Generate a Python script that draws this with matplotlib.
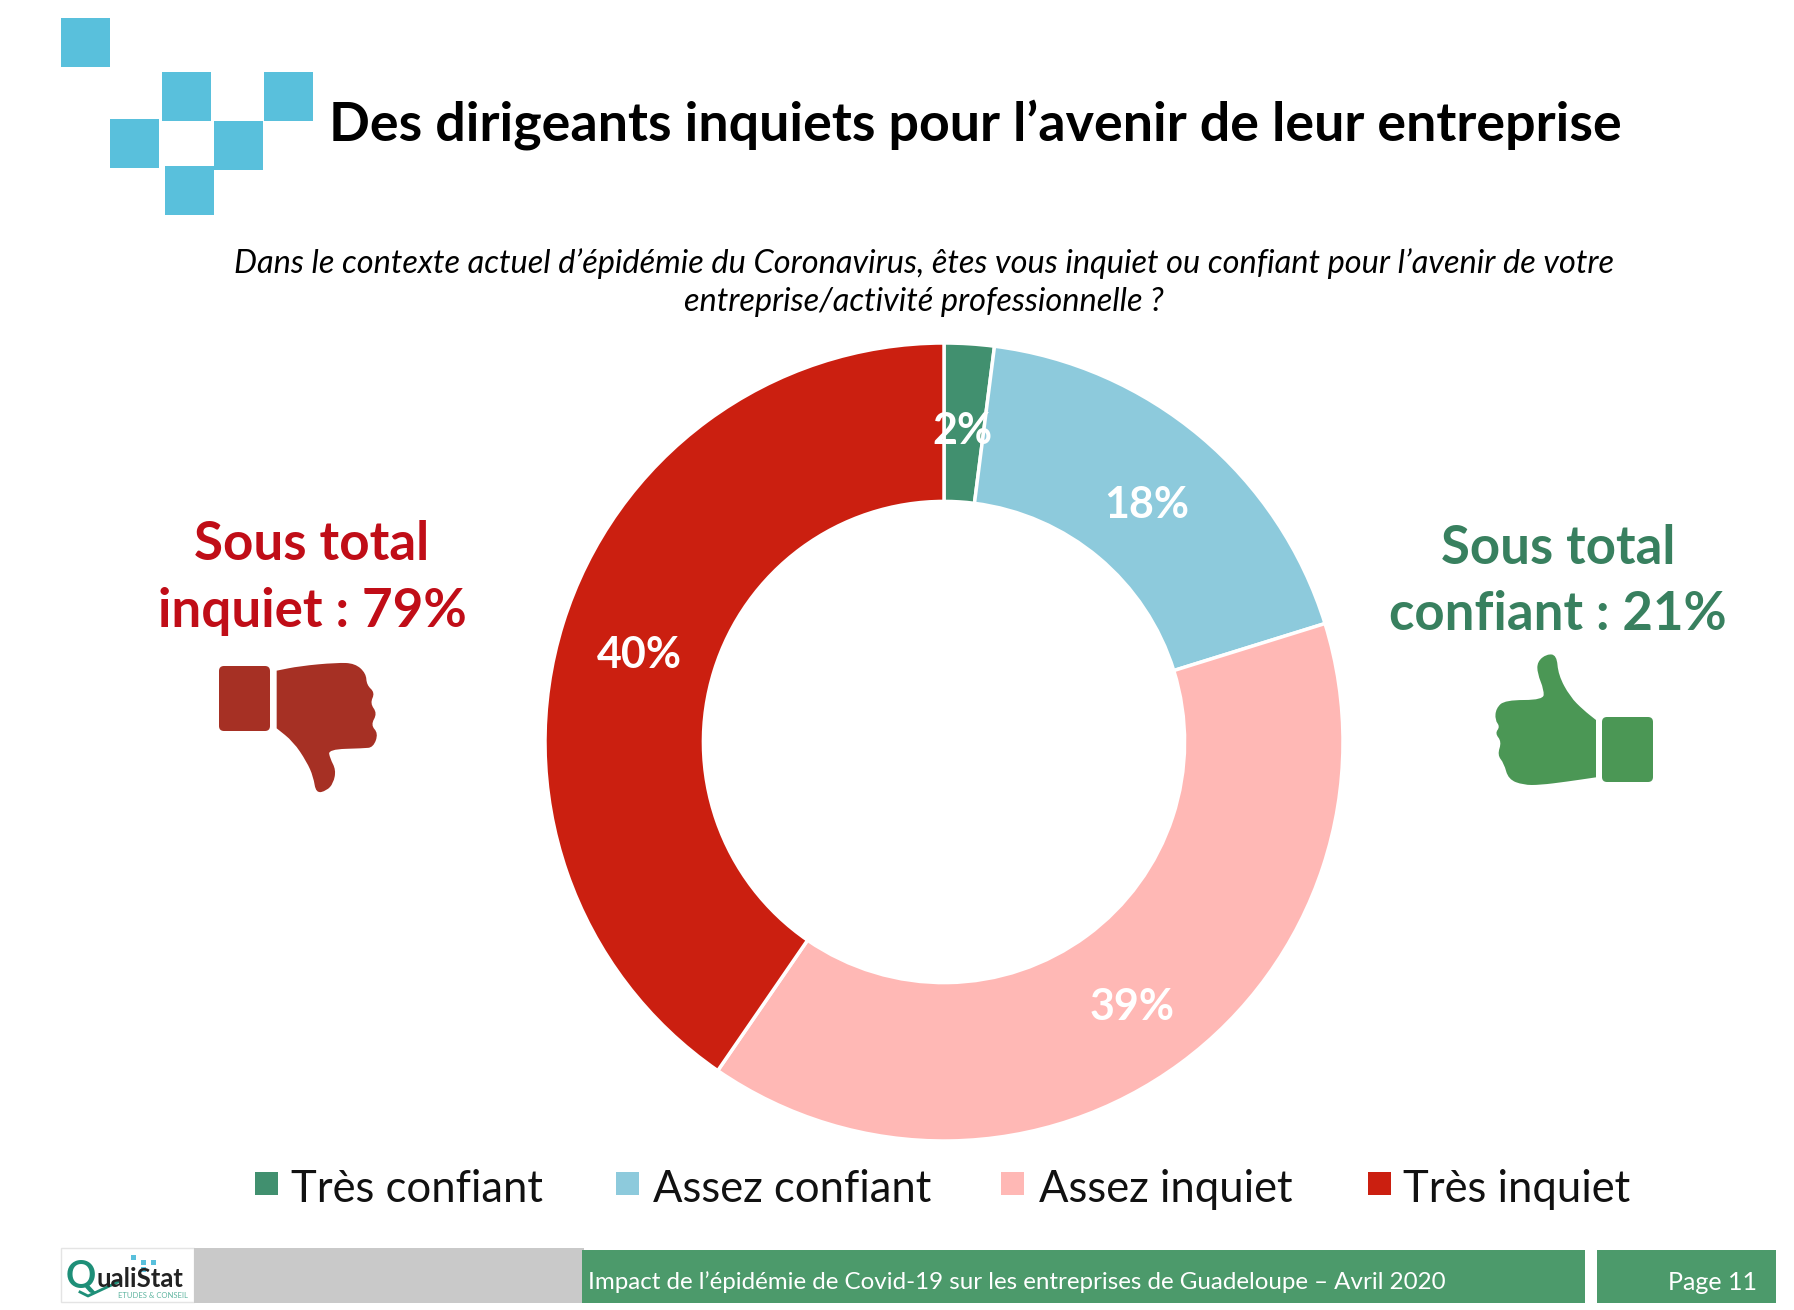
import matplotlib
matplotlib.use('Agg')
import matplotlib.pyplot as plt
from matplotlib.patches import Rectangle, FancyBboxPatch, PathPatch
from matplotlib.path import Path

categories = ['Très confiant', 'Assez confiant', 'Assez inquiet', 'Très inquiet']
values = [2, 18, 39, 40]
colors = ['#41906F', '#8DCADC', '#FFB8B5', '#CB1F10']
value_labels = ['2%', '18%', '39%', '40%']

W, H = 1794, 1310
plt.rcParams['font.family'] = ['Lato', 'DejaVu Sans']


def blob(points, x0, y0):
    # closed smooth outline through crop coordinates (3x zoom), for the thumbs
    pts = [(x0 + x / 3, y0 + y / 3) for x, y in points]
    mid = lambda a, b: ((a[0] + b[0]) / 2, (a[1] + b[1]) / 2)
    verts = [mid(pts[-1], pts[0])]
    codes = [Path.MOVETO]
    for i, p in enumerate(pts):
        verts += [p, mid(p, pts[(i + 1) % len(pts)])]
        codes += [Path.CURVE3, Path.CURVE3]
    return Path(verts, codes)


fig = plt.figure(figsize=(W / 100, H / 100), dpi=100)

# page layer, in pixels with y going down
bg = fig.add_axes([0, 0, 1, 1])
bg.set_xlim(0, W)
bg.set_ylim(H, 0)
bg.axis('off')

# logo squares
squares = [(61, 18, 49), (162, 72, 49), (264, 72, 49), (110, 119, 49), (214, 121, 49), (165, 166, 49)]
for x, y, s in squares:
    bg.add_patch(Rectangle((x, y), s, s, color='#59C0DC', lw=0))

bg.text(329, 125, 'Des dirigeants inquiets pour l’avenir de leur entreprise',
        fontsize=38.7, fontweight='bold', color='black', va='center', ha='left')
bg.text(924, 264, 'Dans le contexte actuel d’épidémie du Coronavirus, êtes vous inquiet ou confiant pour l’avenir de votre',
        fontsize=23.4, style='italic', ha='center', va='center')
bg.text(924, 302, 'entreprise/activité professionnelle ?',
        fontsize=23.4, style='italic', ha='center', va='center')

# side totals
red = '#C00D17'
green = '#38805F'
bg.text(312, 545, 'Sous total', fontsize=38.2, fontweight='bold', color=red, ha='center', va='center')
bg.text(312, 611, 'inquiet : 79%', fontsize=38.2, fontweight='bold', color=red, ha='center', va='center')
bg.text(1558, 548, 'Sous total', fontsize=38, fontweight='bold', color=green, ha='center', va='center')
bg.text(1558, 614, 'confiant : 21%', fontsize=38, fontweight='bold', color=green, ha='center', va='center')

# thumbs
bg.add_patch(FancyBboxPatch((219, 666), 51, 65, boxstyle='round,pad=0,rounding_size=5', color='#A63024', lw=0))
down = [(470, 512), (470, 512), (540, 498), (650, 488), (705, 490), (738, 520), (740, 555), (765, 578), (750, 610),
        (772, 640), (752, 675), (775, 700), (760, 742), (730, 745), (625, 748), (630, 775), (648, 810), (640, 850),
        (620, 872), (588, 880), (580, 830), (560, 785), (520, 725), (470, 685), (470, 685)]
bg.add_patch(PathPatch(blob(down, 120, 500), color='#A63024', lw=0))
bg.add_patch(FancyBboxPatch((1602, 717), 51, 65, boxstyle='round,pad=0,rounding_size=5', color='#4B9755', lw=0))
up = [(648, 660), (648, 660), (610, 630), (570, 590), (535, 525), (530, 465), (500, 462), (472, 485), (472, 520),
      (492, 570), (490, 600), (375, 600), (348, 625), (345, 660), (360, 680), (345, 700), (365, 725), (352, 765),
      (372, 790), (385, 838), (430, 855), (480, 855), (560, 845), (648, 832), (648, 832)]
bg.add_patch(PathPatch(blob(up, 1380, 500), color='#4B9755', lw=0))

# footer
bg.add_patch(Rectangle((61, 1248), 133, 54, facecolor='white', edgecolor='#E4E4E4', lw=1))
bg.add_patch(Rectangle((194, 1248), 390, 55, color='#C9C9C9', lw=0))
bg.add_patch(Rectangle((582, 1250), 1003, 53, color='#4C9A6B', lw=0))
bg.add_patch(Rectangle((1597, 1250), 179, 53, color='#4C9A6B', lw=0))
bg.text(588, 1282, 'Impact de l’épidémie de Covid-19 sur les entreprises de Guadeloupe – Avril 2020',
        fontsize=17.4, color='white', va='center', ha='left')
bg.text(1757, 1282, 'Page 11', fontsize=18, color='white', va='center', ha='right')

# small logo in the footer
bg.text(66, 1277, 'Q', fontsize=27, fontweight='bold', color='#1E8F78', va='center', ha='left')
bg.text(97, 1279, 'ualiStat', fontsize=18.5, fontweight='bold', color='#222222', va='center', ha='left')
bg.text(188, 1295, 'ETUDES & CONSEIL', fontsize=5.5, color='#5FB5A0', va='center', ha='right')
bg.plot([80, 88, 118], [1292, 1296, 1282], color='#1E8F78', lw=2)
for x, y in [(131, 1255), (141, 1260), (151, 1260), (141, 1267)]:
    bg.add_patch(Rectangle((x, y), 5, 5, color='#59C0DC', lw=0))

# donut, in its own axes centred on the reference centre
cx, cy, r = 944, 742, 399
pie_ax = fig.add_axes([(cx - r) / W, 1 - (cy + r) / H, 2 * r / W, 2 * r / H])
wedges, _ = pie_ax.pie(values, colors=colors, startangle=90, counterclock=False, radius=1,
                       wedgeprops=dict(width=0.397, edgecolor='white', linewidth=2.5))
pie_ax.set_xlim(-1, 1)
pie_ax.set_ylim(-1, 1)

# value labels, placed as in the reference
label_pos = [(962, 431), (1147, 505), (1132, 1007), (639, 655)]
for (x, y), s in zip(label_pos, value_labels):
    fig.text(x / W, 1 - y / H, s, fontsize=31, fontweight='bold', color='white',
             ha='center', va='center', zorder=10)

# legend
leg_x = [255, 616, 1001, 1368]
text_x = [291, 653, 1039, 1403]
for x, tx, c, name in zip(leg_x, text_x, colors, categories):
    bg.add_patch(Rectangle((x, 1172), 23, 23, color=c, lw=0))
    bg.text(tx, 1190, name, fontsize=31.4, color='#111111', va='center', ha='left')

fig.savefig('out.png', dpi=100)
